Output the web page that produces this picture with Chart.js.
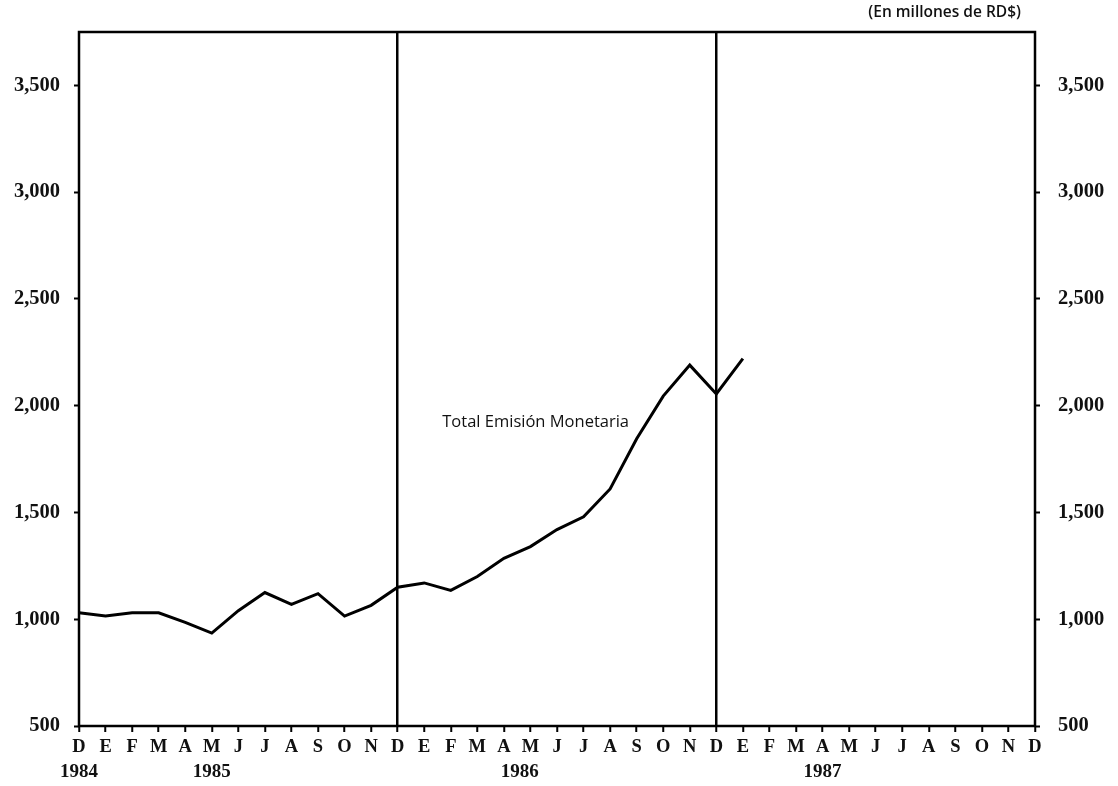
<!DOCTYPE html>
<html>
<head>
<meta charset="utf-8">
<script src="https://cdn.jsdelivr.net/npm/chart.js@4.4.0/dist/chart.umd.min.js"></script>
<style>
  html, body { margin: 0; padding: 0; background: #fff; }
  #wrap { width: 1118px; height: 786px; position: relative; }
</style>
</head>
<body>
<div id="wrap"><canvas id="chart"></canvas></div>
<script>
// Datos: Total Emisión Monetaria (millones de RD$), dic 1984 - dic 1987
const months = ['D','E','F','M','A','M','J','J','A','S','O','N',
                'D','E','F','M','A','M','J','J','A','S','O','N',
                'D','E','F','M','A','M','J','J','A','S','O','N','D'];
const emision = [1030, 1015, 1030, 1030, 985, 935, 1040, 1125, 1070, 1120, 1015, 1065,
                 1150, 1170, 1135, 1200, 1285, 1340, 1420, 1480, 1610, 1845, 2045, 2190,
                 2055, 2220, null, null, null, null, null, null, null, null, null, null, null];
const yTicks = [500, 1000, 1500, 2000, 2500, 3000, 3500];
const years = ['1984', '1985', '1986', '1987'];
const yearAt = [0, 5, 16.6, 28];      // posición en el eje de meses
const yearDividers = [12, 24];        // líneas verticales en diciembre
const seriesName = 'Total Emisión Monetaria';
const unitsNote = '(En millones de RD$)';

const serif = '"Liberation Serif", "DejaVu Serif", serif';
const sans = '"Open Sans", Lato, sans-serif';

function fmt(v) {
    return v.toLocaleString('en-US');
}

// Marco, años y textos
const decor = {
    id: 'decor',
    afterDraw(chart) {
        const { ctx, chartArea: a, scales } = chart;
        ctx.save();
        ctx.strokeStyle = '#000';
        ctx.lineWidth = 2.5;
        ctx.strokeRect(a.left, a.top, a.right - a.left, a.bottom - a.top);

        ctx.fillStyle = '#111';
        ctx.font = 'bold 19px ' + serif;
        ctx.textAlign = 'center';
        ctx.textBaseline = 'middle';
        years.forEach((y, i) => {
            ctx.fillText(y, scales.x.getPixelForValue(yearAt[i]), 772);
        });

        ctx.font = '500 16.5px ' + sans;
        ctx.textAlign = 'left';
        ctx.fillText(seriesName, scales.x.getPixelForValue(13.68), scales.y.getPixelForValue(1920));

        ctx.font = '600 15.5px ' + sans;
        ctx.textAlign = 'right';
        ctx.fillText(unitsNote, a.right - 14, 13);
        ctx.restore();
    }
};

new Chart(document.getElementById('chart'), {
    type: 'line',
    data: {
        labels: months,
        datasets: [{
            label: seriesName,
            data: emision,
            borderColor: '#000',
            borderWidth: 3,
            pointRadius: 0,
            tension: 0,
            spanGaps: false
        }]
    },
    options: {
        responsive: true,
        maintainAspectRatio: false,
        animation: false,
        layout: { padding: { top: 32, left: 0, right: 0, bottom: 0 } },
        plugins: {
            legend: { display: false },
            tooltip: { enabled: false }
        },
        scales: {
            x: {
                type: 'category',
                offset: false,
                afterFit: s => { s.height = 60; },
                border: { display: false },
                grid: {
                    color: c => yearDividers.includes(c.index) ? '#000' : 'rgba(0,0,0,0)',
                    lineWidth: 2.5,
                    tickColor: '#000',
                    tickLength: 6,
                    tickWidth: 2
                },
                ticks: {
                    autoSkip: false,
                    maxRotation: 0,
                    padding: 4,
                    color: '#111',
                    font: { family: serif, size: 18.5, weight: 'bold' }
                }
            },
            y: {
                position: 'left',
                min: 500,
                max: 3750,
                afterBuildTicks: s => { s.ticks = yTicks.map(v => ({ value: v })); },
                afterFit: s => { s.width = 79; },
                border: { display: false },
                grid: { drawOnChartArea: false, tickColor: '#000', tickLength: 5, tickWidth: 2 },
                ticks: {
                    padding: 14,
                    color: '#111',
                    font: { family: serif, size: 20.5, weight: 'bold' },
                    callback: v => fmt(v)
                }
            },
            y2: {
                position: 'right',
                min: 500,
                max: 3750,
                afterBuildTicks: s => { s.ticks = yTicks.map(v => ({ value: v })); },
                afterFit: s => { s.width = 83; },
                border: { display: false },
                grid: { drawOnChartArea: false, tickColor: '#000', tickLength: 5, tickWidth: 2 },
                ticks: {
                    padding: 18,
                    color: '#111',
                    font: { family: serif, size: 20.5, weight: 'bold' },
                    callback: v => fmt(v)
                }
            }
        }
    },
    plugins: [decor]
});
</script>
</body>
</html>
